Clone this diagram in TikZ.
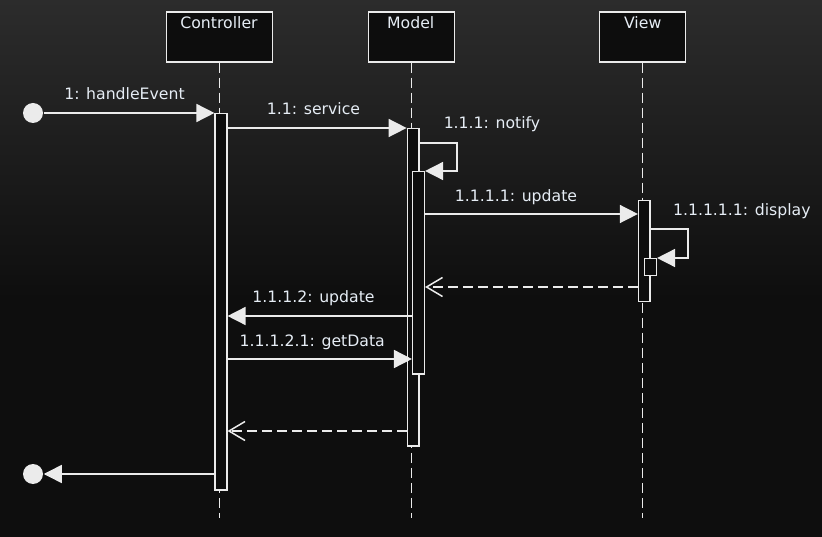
\documentclass[tikz,border=0pt]{standalone}
\usepackage{fontspec}
\setmainfont{DejaVu Sans}
\usepackage{xcolor}
\usetikzlibrary{arrows.meta, positioning, calc}
\definecolor{bgtop}{HTML}{2C2C2C}
\definecolor{bgbottom}{HTML}{0E0E0E}
\definecolor{boxfill}{HTML}{0D0D0D}
\definecolor{ink}{HTML}{EBEBEB}
\definecolor{labelink}{HTML}{E6EDF5}

\begin{document}
\begin{tikzpicture}[x=1pt, y=-1pt, line width=1.5pt,
    font=\fontsize{15.7}{19}\selectfont,
    part/.style={draw=ink, fill=boxfill, inner sep=0pt, minimum height=50pt},
    actbar/.style={draw=ink, fill=boxfill, inner sep=0pt, anchor=north, minimum width=11.6pt},
    life/.style={draw=ink, dash pattern=on 10pt off 5pt},
    call/.style={draw=ink, -{Triangle[length=18pt, width=18pt, fill=ink]}},
    reply/.style={draw=ink, dash pattern=on 10pt off 5pt, -{Straight Barb[length=16pt, width=19pt]}},
    endpoint/.style={circle, fill=ink, inner sep=0pt, minimum size=20pt},
    lbl/.style={text=labelink, inner sep=0pt}]

  % background gradient
  \shade[top color=bgtop, bottom color=bgbottom] (0,0) rectangle (822,300);
  \fill[bgbottom] (0,299) rectangle (822,537);
  \useasboundingbox (0,0) rectangle (822,537);

  % participants
  \node[part, minimum width=106pt] (ctrl) at (219.5,37) {};
  \node[part, minimum width=86pt] (model) at (411.7,37) {};
  \node[part, minimum width=86pt] (view) at (642.7,37) {};
  \node[lbl, anchor=base] (ctrlName) at (219,28.5) {Controller};
  \node[lbl, anchor=base] (modelName) at (410.7,28.5) {Model};
  \node[lbl, anchor=base] (viewName) at (642.7,28.5) {View};

  % lifelines
  \coordinate (lifeEnd) at (0,518);
  \draw[life] (ctrl.south) -- (ctrl.south |- lifeEnd);
  \draw[life] (model.south) -- (model.south |- lifeEnd);
  \draw[life] (view.south) -- (view.south |- lifeEnd);

  % activation bars
  \node[actbar, minimum height=376pt] (actC) at (221,113) {};
  \node[actbar, minimum height=317pt] (actM) at (413.2,128) {};
  \node[actbar, minimum height=202pt] (actM2) at (418.5,171) {};
  \node[actbar, minimum height=101pt, minimum width=11.3pt] (actV) at (644.3,200) {};
  \node[actbar, minimum height=17pt, minimum width=12pt] (actV2) at (650.3,258) {};

  % message levels
  \coordinate (yService) at (0,128);
  \coordinate (notifyTurn) at (457,143);
  \coordinate (yUpdate) at (0,214);
  \coordinate (displayTurn) at (688,229);
  \coordinate (yBackV) at (0,287);
  \coordinate (yUpdateC) at (0,316);
  \coordinate (yGetData) at (0,359);
  \coordinate (yBackM) at (0,431);

  % found and lost messages
  \node[endpoint] (start) at (33,113) {};
  \node[endpoint] (stop) at (33,474) {};
  \draw[call] (start) -- (actC.west |- start);
  \draw[call] (actC.west |- stop) -- (stop);

  % calls
  \draw[call] (actC.east |- yService) -- (actM.west |- yService);
  \draw[call] (actM.east |- notifyTurn) -- (notifyTurn) |- (actM2.north east);
  \draw[call] (actM2.east |- yUpdate) -- (actV.west |- yUpdate);
  \draw[call] (actV.east |- displayTurn) -- (displayTurn) |- (actV2.north east);
  \draw[reply] (actV.west |- yBackV) -- (actM2.east |- yBackV);
  \draw[call] (actM2.west |- yUpdateC) -- (actC.east |- yUpdateC);
  \draw[call] (actC.east |- yGetData) -- (actM2.west |- yGetData);
  \draw[reply] (actM.west |- yBackM) -- (actC.east |- yBackM);

  % message labels
  \node[lbl, anchor=base] (lblEvent) at (124.5,100) {1: handleEvent};
  \node[lbl, anchor=base] (lblService) at (313.5,115) {1.1: service};
  \node[lbl, anchor=base west] (lblNotify) at (443,129) {1.1.1: notify};
  \node[lbl, anchor=base] (lblUpdate) at (516,202) {1.1.1.1: update};
  \node[lbl, anchor=base west] (lblDisplay) at (672.3,216) {1.1.1.1.1: display};
  \node[lbl, anchor=base] (lblUpdateC) at (313.5,302.7) {1.1.1.2: update};
  \node[lbl, anchor=base] (lblGetData) at (312.3,346) {1.1.1.2.1: getData};
\end{tikzpicture}
\end{document}
